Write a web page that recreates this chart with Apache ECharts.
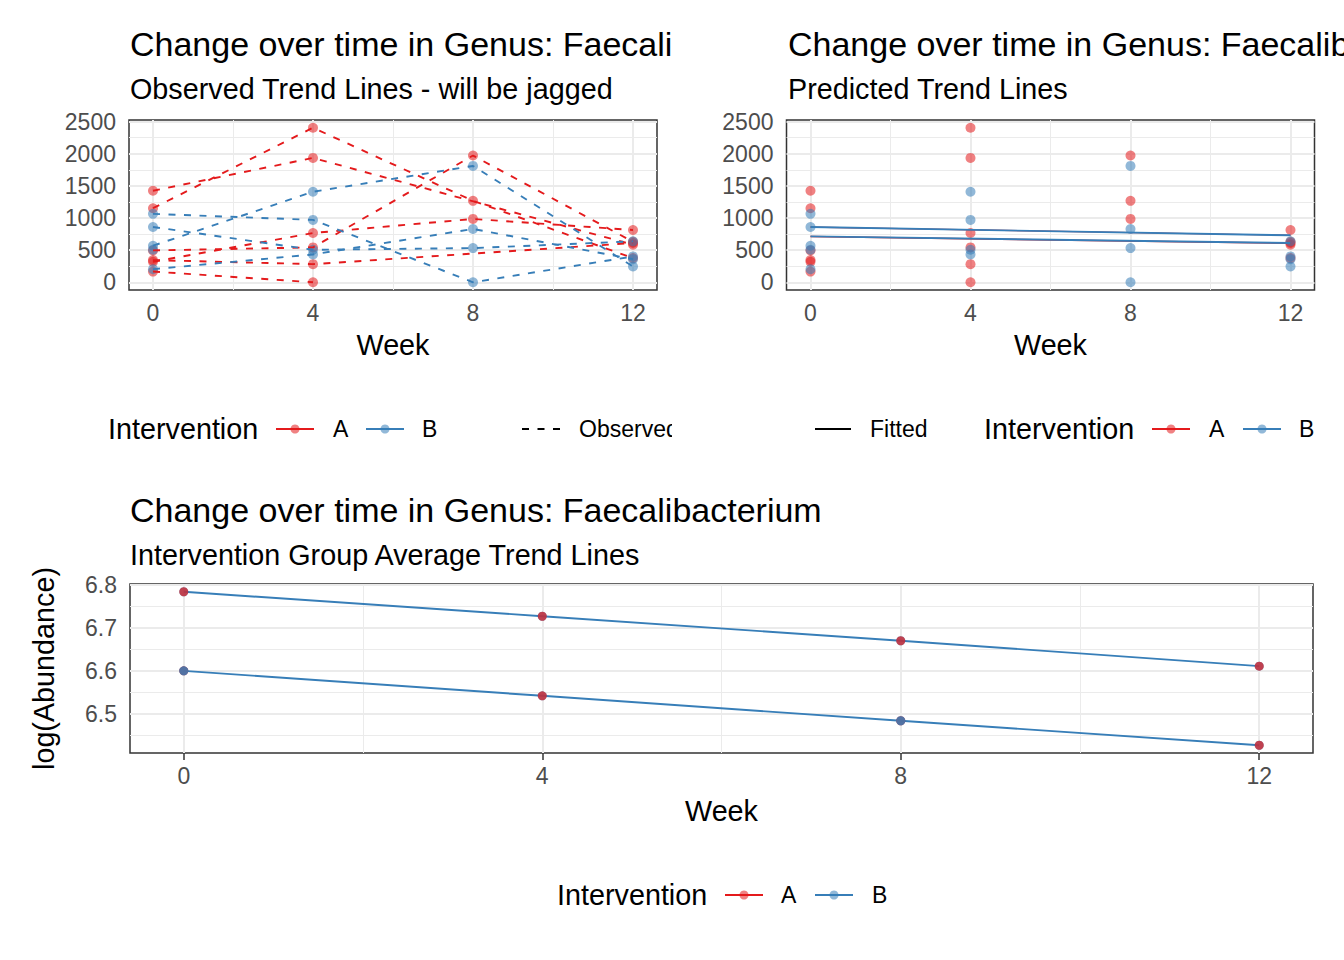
<!DOCTYPE html>
<html><head><meta charset="utf-8">
<script src="https://cdn.jsdelivr.net/npm/echarts@6/dist/echarts.min.js"></script>
<style>html,body{margin:0;padding:0;background:#fff}#c{width:1344px;height:960px}</style>
</head><body><div id="c"></div>
<script>
// ---------- data ----------
const weeks = [0, 4, 8, 12];
const xTicksWeek = [0, 4, 8, 12];
const xMinorWeek = [2, 6, 10];
const yTicksAbund = [0, 500, 1000, 1500, 2000, 2500];
const yMinorAbund = [250, 750, 1250, 1750, 2250];
const yTicksLog = [6.5, 6.6, 6.7, 6.8];
const yMinorLog = [6.45, 6.55, 6.65, 6.75];

// observed abundance per subject at weeks 0,4,8,12 (null = missing)
const subjA1 = [1153, 2406, 1268, 376];
const subjA2 = [1425, 1936, null, 585];
const subjA3 = [496, 543, 1973, 630];
const subjA4 = [320, 767, 986, 814];
const subjA5 = [345, 282, null, 611];
const subjA6 = [167, 0, null, null];
const subjB1 = [1065, 971, 0, 402];
const subjB2 = [861, 506, 532, 637];
const subjB3 = [569, 1409, 1811, 245];
const subjB4 = [204, 433, 830, 360];
const subjB5 = [506, null, null, null];

// predicted (fitted) trend lines
const fitWeeks = [0, 12];
const fitA_upper = [860, 731];
const fitA_lower = [712, 607];
const fitB_upper = [860, 731];
const fitB_lower = [715, 611];

// group average trend lines, log(Abundance)
const avgUpper = [6.784, 6.727, 6.670, 6.611];
const avgLower = [6.600, 6.542, 6.484, 6.427];

// ---------- styling ----------
const RED = '#E41A1C', BLUE = '#377EB8';
const F = '"Liberation Sans", Arial, sans-serif';
const groupA = [subjA1, subjA2, subjA3, subjA4, subjA5, subjA6];
const groupB = [subjB1, subjB2, subjB3, subjB4, subjB5];

function pts(list) {
  const out = [];
  list.forEach(s => s.forEach((v, i) => { if (v !== null) out.push([weeks[i], v]); }));
  return out;
}
function pairs(xs, ys) { return xs.map((x, i) => [x, ys[i]]); }

function gridLines(yT, yM, xT, xM) {
  const major = { color: '#EBEBEB', width: 2, type: 'solid' };
  const minor = { color: '#EBEBEB', width: 1, type: 'solid' };
  const data = [];
  yM.forEach(v => data.push({ yAxis: v, lineStyle: minor }));
  xM.forEach(v => data.push({ xAxis: v, lineStyle: minor }));
  yT.forEach(v => data.push({ yAxis: v, lineStyle: major }));
  xT.forEach(v => data.push({ xAxis: v, lineStyle: major }));
  return { silent: true, symbol: ['none', 'none'], label: { show: false }, z: 1, animation: false,
           emphasis: { disabled: true }, data };
}

function xAx(gi, gap) {
  return {
    type: 'value', gridIndex: gi, min: -0.6, max: 12.6,
    axisLine: { show: false }, splitLine: { show: false },
    axisTick: { show: true, length: 7, lineStyle: { color: '#333333', width: 1.5 }, customValues: xTicksWeek },
    axisLabel: { customValues: xTicksWeek, margin: 11, color: '#4D4D4D', fontSize: 23, fontFamily: F },
    name: 'Week', nameLocation: 'middle', nameGap: gap,
    nameTextStyle: { fontSize: 28.75, color: '#000', fontFamily: F, verticalAlign: 'middle' }
  };
}
function yAx(gi, min, max, ticks, fmt, extra) {
  return Object.assign({
    type: 'value', gridIndex: gi, min, max,
    axisLine: { show: false }, splitLine: { show: false },
    axisTick: { show: true, length: 7, lineStyle: { color: '#333333', width: 1.5 }, customValues: ticks },
    axisLabel: { customValues: ticks, margin: 13, color: '#4D4D4D', fontSize: 23, fontFamily: F, formatter: fmt }
  }, extra || {});
}

const gridBase = { show: true, backgroundColor: '#fff', borderColor: '#333333', borderWidth: 1.5,
                   containLabel: false, outerBoundsMode: 'none' };

const series = [];
// ---- panel 1: observed ----
series.push({ type: 'scatter', xAxisIndex: 0, yAxisIndex: 0, data: pts(groupA), symbolSize: 10,
  itemStyle: { color: RED, opacity: 0.55 }, z: 3, silent: true, animation: false,
  markLine: gridLines(yTicksAbund, yMinorAbund, xTicksWeek, xMinorWeek) });
series.push({ type: 'scatter', xAxisIndex: 0, yAxisIndex: 0, data: pts(groupB), symbolSize: 10,
  itemStyle: { color: BLUE, opacity: 0.55 }, z: 3, silent: true, animation: false });
groupA.concat(groupB).forEach((s, k) => {
  series.push({ type: 'line', xAxisIndex: 0, yAxisIndex: 0, data: pairs(weeks, s), connectNulls: true,
    symbol: 'none', showSymbol: false, silent: true, animation: false, z: 4,
    lineStyle: { color: k < groupA.length ? RED : BLUE, width: 1.9, type: [7, 8.5] } });
});
// ---- panel 2: predicted ----
series.push({ type: 'scatter', xAxisIndex: 1, yAxisIndex: 1, data: pts(groupA), symbolSize: 10,
  itemStyle: { color: RED, opacity: 0.55 }, z: 3, silent: true, animation: false,
  markLine: gridLines(yTicksAbund, yMinorAbund, xTicksWeek, xMinorWeek) });
series.push({ type: 'scatter', xAxisIndex: 1, yAxisIndex: 1, data: pts(groupB), symbolSize: 10,
  itemStyle: { color: BLUE, opacity: 0.55 }, z: 3, silent: true, animation: false });
[[fitA_upper, RED, 1.2], [fitA_lower, RED, 1.6], [fitB_upper, BLUE, 1.9], [fitB_lower, BLUE, 1.9]].forEach(([ys, c, w]) => {
  series.push({ type: 'line', xAxisIndex: 1, yAxisIndex: 1, data: pairs(fitWeeks, ys),
    symbol: 'none', showSymbol: false, silent: true, animation: false, z: 4,
    lineStyle: { color: c, width: w } });
});
// ---- panel 3: group averages ----
series.push({ type: 'line', xAxisIndex: 2, yAxisIndex: 2, data: pairs(weeks, avgUpper),
  symbol: 'none', showSymbol: false, silent: true, animation: false, z: 3,
  lineStyle: { color: BLUE, width: 1.9 },
  markLine: gridLines(yTicksLog, yMinorLog, xTicksWeek, xMinorWeek) });
series.push({ type: 'line', xAxisIndex: 2, yAxisIndex: 2, data: pairs(weeks, avgLower),
  symbol: 'none', showSymbol: false, silent: true, animation: false, z: 3,
  lineStyle: { color: BLUE, width: 1.9 } });
const avgAll = pairs(weeks, avgUpper).concat(pairs(weeks, avgLower));
series.push({ type: 'scatter', xAxisIndex: 2, yAxisIndex: 2, data: avgAll, symbolSize: 9,
  itemStyle: { color: BLUE, opacity: 0.75 }, z: 4, silent: true, animation: false });
series.push({ type: 'scatter', xAxisIndex: 2, yAxisIndex: 2, data: avgAll, symbolSize: 9,
  itemStyle: { color: RED, opacity: 0.7 }, z: 4, silent: true, animation: false });
series.push({ type: 'scatter', xAxisIndex: 2, yAxisIndex: 2,
  data: [[weeks[0], avgLower[0]], [weeks[2], avgLower[2]]], symbolSize: 9,
  itemStyle: { color: BLUE, opacity: 0.8 }, z: 4, silent: true, animation: false });

// ---------- graphic: titles & legends ----------
function txt(x, y, text, size, z, color, align) {
  return { type: 'text', x, y, z: z || 10, silent: true,
    style: { text, font: size + 'px ' + F, fill: color || '#000',
             align: align || 'left', textAlign: align || 'left', verticalAlign: 'middle', textVerticalAlign: 'middle' } };
}
function keyPointLine(x, y, color) {
  return [
    { type: 'line', z: 10, silent: true, shape: { x1: x, y1: y, x2: x + 38, y2: y }, style: { stroke: color, lineWidth: 2 } },
    { type: 'circle', z: 10, silent: true, shape: { cx: x + 19, cy: y, r: 4.5 }, style: { fill: color, opacity: 0.55 } }
  ];
}
const graphic = [
  txt(130, 44, 'Change over time in Genus: Faecalibacterium', 34, 10),
  txt(130, 89, 'Observed Trend Lines - will be jagged', 28.75, 10),
  { type: 'rect', z: 11, silent: true, shape: { x: 672, y: 12, width: 672, height: 64 }, style: { fill: '#fff' } },
  txt(788, 44, 'Change over time in Genus: Faecalibacterium', 34, 12),
  txt(788, 89, 'Predicted Trend Lines', 28.75, 12),
  txt(130, 510, 'Change over time in Genus: Faecalibacterium', 34, 10),
  txt(130, 555, 'Intervention Group Average Trend Lines', 28.75, 10),
  // legend panel 1
  txt(108, 429, 'Intervention', 28.75, 10),
  ...keyPointLine(276, 429, RED), txt(333, 429, 'A', 23, 10),
  ...keyPointLine(366, 429, BLUE), txt(422, 429, 'B', 23, 10),
  { type: 'line', z: 10, silent: true, shape: { x1: 522, y1: 429, x2: 560, y2: 429 }, style: { stroke: '#000', lineWidth: 2, lineDash: [7, 8.5] } },
  txt(579, 429, 'Observed', 23, 10),
  { type: 'rect', z: 11, silent: true, shape: { x: 672, y: 405, width: 130, height: 50 }, style: { fill: '#fff' } },
  // legend panel 2
  { type: 'line', z: 12, silent: true, shape: { x1: 815, y1: 429, x2: 851, y2: 429 }, style: { stroke: '#000', lineWidth: 2 } },
  txt(870, 429, 'Fitted', 23, 12),
  txt(984, 429, 'Intervention', 28.75, 12),
  ...keyPointLine(1152, 429, RED), txt(1209, 429, 'A', 23, 12),
  ...keyPointLine(1243, 429, BLUE), txt(1299, 429, 'B', 23, 12),
  // legend panel 3
  txt(557, 895, 'Intervention', 28.75, 10),
  ...keyPointLine(725, 895, RED), txt(781, 895, 'A', 23, 10),
  ...keyPointLine(815, 895, BLUE), txt(872, 895, 'B', 23, 10)
];

const option = {
  animation: false,
  backgroundColor: '#fff',
  textStyle: { fontFamily: F },
  grid: [
    Object.assign({ left: 129, top: 120, width: 528, height: 170 }, gridBase),
    Object.assign({ left: 786.5, top: 120, width: 528, height: 170 }, gridBase),
    Object.assign({ left: 130, top: 584, width: 1183, height: 169 }, gridBase)
  ],
  xAxis: [xAx(0, 55), xAx(1, 55), xAx(2, 58)],
  yAxis: [
    yAx(0, -120.3, 2526.3, yTicksAbund, v => String(v)),
    yAx(1, -120.3, 2526.3, yTicksAbund, v => String(v)),
    yAx(2, 6.409, 6.802, yTicksLog, v => Number(v).toFixed(1), {
      name: 'log(Abundance)', nameLocation: 'middle', nameGap: 86,
      nameTextStyle: { fontSize: 28.75, color: '#000', fontFamily: F, verticalAlign: 'middle' } })
  ],
  series,
  graphic
};
const chart = echarts.init(document.getElementById('c'), null, { renderer: 'svg', width: 1344, height: 960 });
chart.setOption(option);
</script>
</body></html>
